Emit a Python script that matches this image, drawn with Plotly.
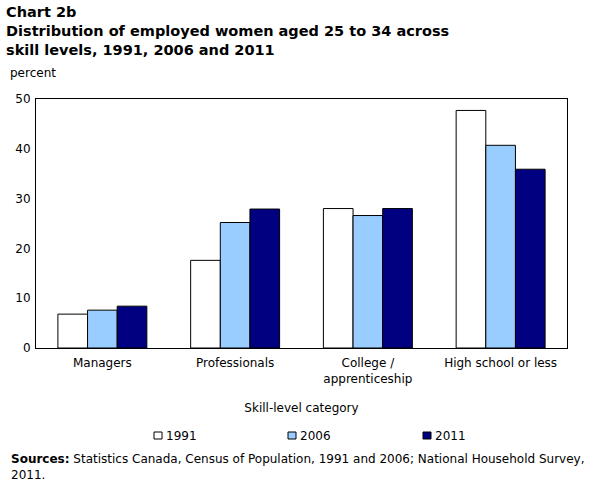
import plotly.graph_objects as go

categories = ["Managers", "Professionals", "College /<br>apprenticeship", "High school or less"]
years = ["1991", "2006", "2011"]
v1991 = [6.8, 17.6, 28.0, 47.7]
v2006 = [7.6, 25.2, 26.6, 40.7]
v2011 = [8.4, 27.9, 28.0, 35.9]
colors = ["#FFFFFF", "#99CCFF", "#000080"]

W, H = 606, 493
L, R, T, B = 36, 567, 99, 348
FONT = "DejaVu Sans"

def px(x):
    return (x - L) / (R - L)

def py(y):
    return (B - y) / (B - T)

fig = go.Figure()
for name, vals, c in zip(years, [v1991, v2006, v2011], colors):
    fig.add_trace(go.Bar(x=categories, y=vals, name=name,
                         marker=dict(color=c, line=dict(color="black", width=1))))

fig.update_layout(
    width=W, height=H,
    margin=dict(l=L, r=W - R, t=T, b=H - B),
    paper_bgcolor="white", plot_bgcolor="white",
    font=dict(family=FONT, size=12, color="black"),
    barmode="group", bargap=0.33, bargroupgap=0,
    showlegend=False,
    xaxis=dict(showline=True, linecolor="black", linewidth=1, mirror=True,
               ticks="", showgrid=False, tickfont=dict(size=12), ticklabelstandoff=4,
               title=dict(text="Skill-level category", font=dict(size=12), standoff=18)),
    yaxis=dict(range=[0, 50], tickvals=[0, 10, 20, 30, 40, 50], showline=True,
               linecolor="black", linewidth=1, mirror=True, ticks="", showgrid=False,
               zeroline=False, tickfont=dict(size=12), ticklabelstandoff=2),
)

# manual legend
leg_x = [154, 288, 423]
for name, c, lx in zip(years, colors, leg_x):
    fig.add_shape(type="rect", xref="paper", yref="paper",
                  x0=px(lx), x1=px(lx + 8), y0=py(439), y1=py(432),
                  fillcolor=c, line=dict(color="black", width=1))
    fig.add_annotation(text=name, xref="paper", yref="paper", x=px(lx + 10), y=py(435.5),
                       xanchor="left", yanchor="middle", showarrow=False, font=dict(size=12))

fig.add_annotation(text="<b>Chart 2b<br>Distribution of employed women aged 25 to 34 across<br>skill levels, 1991, 2006 and 2011</b>",
                   xref="paper", yref="paper", x=px(4), y=py(2), xanchor="left", yanchor="top",
                   align="left", showarrow=False, font=dict(family=FONT, size=14.5))
fig.add_annotation(text="percent", xref="paper", yref="paper", x=px(8), y=py(64),
                   xanchor="left", yanchor="top", showarrow=False, font=dict(size=12))
fig.add_annotation(text="<b>Sources:</b> Statistics Canada, Census of Population, 1991 and 2006; National Household Survey,<br>2011.",
                   xref="paper", yref="paper", x=px(9), y=py(450), xanchor="left", yanchor="top",
                   align="left", showarrow=False, font=dict(size=12))

fig.write_html("out.html")
